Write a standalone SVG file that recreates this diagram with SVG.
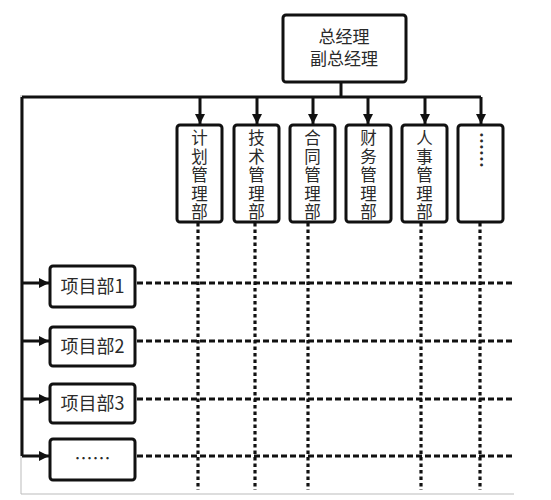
<svg xmlns="http://www.w3.org/2000/svg" width="551" height="500" viewBox="0 0 551 500">
<defs>
<marker id="ah" viewBox="0 0 10 10" refX="10" refY="5" markerWidth="3.4" markerHeight="3.4" orient="auto" markerUnits="strokeWidth">
<path d="M0,0 L10,5 L0,10 z" fill="#111"/>
</marker>
</defs>
<style>
.box{fill:#fff;stroke:#111;stroke-width:3}
.t{font-family:"Noto Sans CJK SC","Noto Sans",sans-serif;font-size:18px;fill:#2a2a2a;text-anchor:middle}
.v{font-size:16.5px}
.ln{stroke:#111;stroke-width:3;fill:none}
.arr{stroke:#111;stroke-width:3;fill:none;marker-end:url(#ah)}
.dh{stroke:#111;stroke-width:3.2;fill:none;stroke-dasharray:6 3}
.dv{stroke:#111;stroke-width:3.2;fill:none;stroke-dasharray:3.5 3}
.frame{stroke:#bbb;stroke-width:1;fill:none}
</style>
<rect width="551" height="500" fill="#fff"/>
<path class="frame" d="M21,95 V494 H514"/>
<g id="connectors">
<path class="ln" d="M341,82 V97"/>
<path class="ln" d="M22,97 H481 M22,97 V456"/>
<path class="arr" d="M200,97 V124"/>
<path class="arr" d="M257,97 V124"/>
<path class="arr" d="M313,97 V124"/>
<path class="arr" d="M368,97 V124"/>
<path class="arr" d="M425,97 V124"/>
<path class="arr" d="M481,97 V124"/>
<path class="arr" d="M22,283 H49"/>
<path class="arr" d="M22,341 H49"/>
<path class="arr" d="M22,399 H49"/>
<path class="arr" d="M22,456 H49"/>
<path class="dh" d="M137,283 H514"/>
<path class="dh" d="M137,341 H514"/>
<path class="dh" d="M137,399 H514"/>
<path class="dh" d="M137,456 H514"/>
<path class="dv" d="M198,223 V490"/>
<path class="dv" d="M255,223 V490"/>
<path class="dv" d="M308,223 V490"/>
<path class="dv" d="M421,223 V490"/>
<path class="dv" d="M480,223 V490"/>
</g>
<g id="gm">
<rect class="box" x="283" y="15" width="123" height="67" rx="3"/>
<text class="t" x="344" y="43" style="font-size:17px">总经理</text>
<text class="t" x="344" y="65" style="font-size:17px">副总经理</text>
</g>
<g id="d1">
<rect class="box" x="177" y="125" width="45" height="97" rx="3"/>
<text class="t v"><tspan x="199.5" y="144">计</tspan><tspan x="199.5" dy="18.5">划</tspan><tspan x="199.5" dy="18.5">管</tspan><tspan x="199.5" dy="18.5">理</tspan><tspan x="199.5" dy="18.5">部</tspan></text>
</g>
<g id="d2">
<rect class="box" x="234" y="125" width="45" height="97" rx="3"/>
<text class="t v"><tspan x="256.5" y="144">技</tspan><tspan x="256.5" dy="18.5">术</tspan><tspan x="256.5" dy="18.5">管</tspan><tspan x="256.5" dy="18.5">理</tspan><tspan x="256.5" dy="18.5">部</tspan></text>
</g>
<g id="d3">
<rect class="box" x="290" y="125" width="45" height="97" rx="3"/>
<text class="t v"><tspan x="312.5" y="144">合</tspan><tspan x="312.5" dy="18.5">同</tspan><tspan x="312.5" dy="18.5">管</tspan><tspan x="312.5" dy="18.5">理</tspan><tspan x="312.5" dy="18.5">部</tspan></text>
</g>
<g id="d4">
<rect class="box" x="346" y="125" width="45" height="97" rx="3"/>
<text class="t v"><tspan x="368.5" y="144">财</tspan><tspan x="368.5" dy="18.5">务</tspan><tspan x="368.5" dy="18.5">管</tspan><tspan x="368.5" dy="18.5">理</tspan><tspan x="368.5" dy="18.5">部</tspan></text>
</g>
<g id="d5">
<rect class="box" x="402" y="125" width="45" height="97" rx="3"/>
<text class="t v"><tspan x="424.5" y="144">人</tspan><tspan x="424.5" dy="18.5">事</tspan><tspan x="424.5" dy="18.5">管</tspan><tspan x="424.5" dy="18.5">理</tspan><tspan x="424.5" dy="18.5">部</tspan></text>
</g>
<g id="d6">
<rect class="box" x="458" y="125" width="45" height="97" rx="3"/>
<text class="t" transform="translate(481,150) rotate(90)" x="0" y="6" style="font-weight:bold">……</text>
</g>
<g id="p1">
<rect class="box" x="50" y="266" width="85" height="41" rx="3"/>
<text class="t" x="92.5" y="293">项目部1</text>
</g>
<g id="p2">
<rect class="box" x="50" y="327" width="85" height="39" rx="3"/>
<text class="t" x="92.5" y="353">项目部2</text>
</g>
<g id="p3">
<rect class="box" x="50" y="384" width="85" height="39" rx="3"/>
<text class="t" x="92.5" y="410">项目部3</text>
</g>
<g id="p4">
<rect class="box" x="50" y="439" width="85" height="41" rx="3"/>
<text class="t" x="92.5" y="465">……</text>
</g>
</svg>
